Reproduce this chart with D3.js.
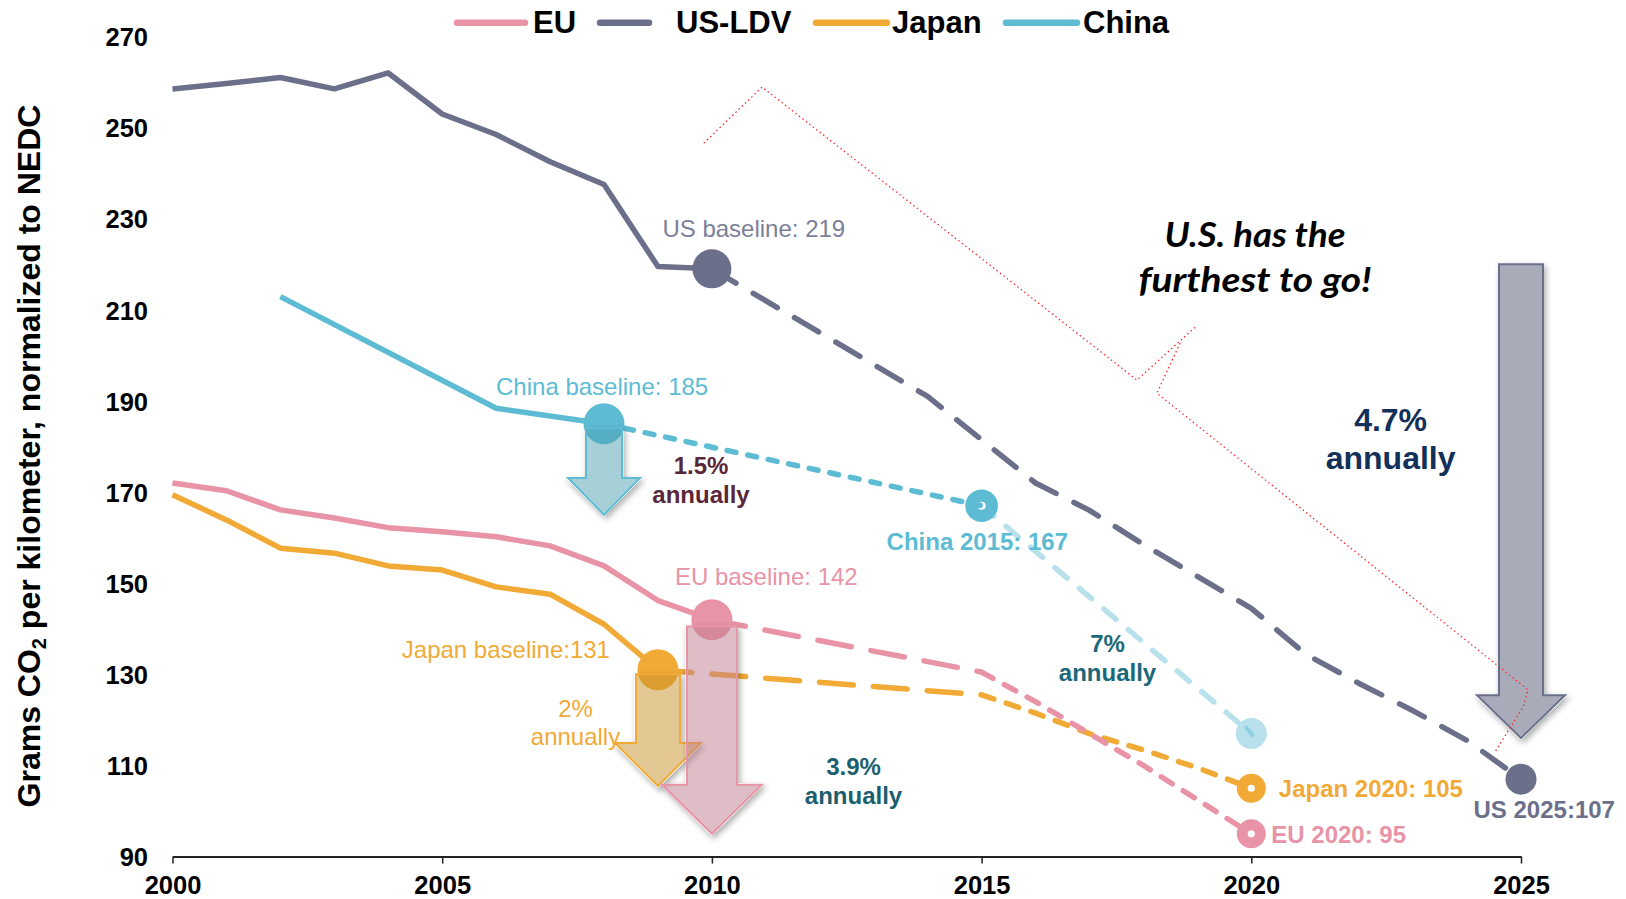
<!DOCTYPE html>
<html>
<head>
<meta charset="utf-8">
<script src="https://cdn.jsdelivr.net/npm/d3@7"></script>
<style>
  html, body { margin: 0; padding: 0; background: #ffffff; }
  svg { display: block; }
</style>
</head>
<body>
<svg id="chart" width="1626" height="899"></svg>
<script>
// ---------------- data ----------------
const yearTicks  = [2000, 2005, 2010, 2015, 2020, 2025];
const valueTicks = [90, 110, 130, 150, 170, 190, 210, 230, 250, 270];

const seriesNames = ["EU", "US-LDV", "Japan", "China"];

// historical fleet averages (g CO2/km, NEDC-normalised)
const usHistoryYears = [2000, 2001, 2002, 2003, 2004, 2005, 2006, 2007, 2008, 2009, 2010];
const usHistory      = [258.5, 259.7, 261, 258.5, 262, 253, 248.5, 242.5, 237.5, 219.5, 219];
const euHistoryYears = [2000, 2001, 2002, 2003, 2004, 2005, 2006, 2007, 2008, 2009, 2010];
const euHistory      = [172, 170.3, 166.1, 164.3, 162.2, 161.3, 160.2, 158.2, 153.8, 146.2, 142];
const japanHistoryYears = [2000, 2001, 2002, 2003, 2004, 2005, 2006, 2007, 2008, 2009];
const japanHistory      = [169.4, 163.9, 157.7, 156.6, 153.8, 152.9, 149.2, 147.6, 141, 131];
const chinaHistoryYears = [2002, 2006, 2008];
const chinaHistory      = [212.9, 188.4, 185];

// enacted / proposed targets
const usTargetYears = [2010, 2014, 2015, 2016, 2017, 2018, 2019, 2020, 2021, 2022, 2023, 2024, 2025];
const usTarget      = [219, 191, 181.5, 172, 166, 158.5, 151.5, 144.5, 134.5, 128, 122, 115.5, 107];
const euTargetYears = [2010, 2015];
const euTarget      = [142, 130.5];
const euLaterYears  = [2015, 2016, 2017, 2018, 2019, 2020];
const euLater       = [130.5, 124, 117, 110, 102.5, 95];
const japanTargetYears = [2009, 2015];
const japanTarget      = [131, 125.5];
const japanLaterYears  = [2015, 2016, 2017, 2018, 2019, 2020];
const japanLater       = [125.5, 121.5, 117, 113.4, 109.5, 105];
const chinaTargetYears = [2008, 2015];
const chinaTarget      = [185, 167];
const chinaLaterYears  = [2015, 2020];
const chinaLater       = [167, 117];

// milestone markers
const baselineSeries = ["US-LDV", "China", "EU", "Japan"];
const baselineYears  = [2010, 2008, 2010, 2009];
const baselineValues = [219, 185, 142, 131];
const goalSeries = ["China", "China", "Japan", "EU", "US-LDV"];
const goalYears  = [2015, 2020, 2020, 2020, 2025];
const goalValues = [167, 117, 105, 95, 107];

// reduction arrows (from value -> to value)
const arrowSeries = ["China", "Japan", "EU", "US-LDV"];
const arrowYears  = [2008, 2009, 2010, 2025];
const arrowFrom   = [184, 130, 140.5, 220];
const arrowTo     = [165, 105.5, 95, 116];

// callout brace (year, value)
const braceUpper = [[2009.85, 246.6], [2010.93, 258.9], [2017.88, 194.6], [2018.96, 206.2]];
const braceLower = [[2018.68, 202.7], [2018.25, 191.7], [2025.13, 126.6], [2025.04, 122.9], [2024.52, 113]];

// ---------------- styling ----------------
const colour = { "EU": "#e893a6", "US-LDV": "#6b6f8a", "Japan": "#f1aa36", "China": "#5dbcd4" };
const chinaLight = "#b9e1eb";
const arrowFill  = { "EU": "#bf7b8d", "US-LDV": "#535971", "Japan": "#c7912d", "China": "#4d9fb1" };
const arrowAlpha = { "EU": 0.5, "US-LDV": 0.5, "Japan": 0.5, "China": 0.5 };
const SANS = "'Liberation Sans', Arial, Helvetica, sans-serif";

const svg = d3.select("#chart");

const x = d3.scaleLinear().domain([2000, 2025]).range([172.5, 1521]);
const y = d3.scaleLinear().domain([90, 270]).range([856.6, 36.5]);

// soft outer shadow for the block arrows
const defs = svg.append("defs");
const f = defs.append("filter").attr("id", "arrowShadow")
  .attr("x", "-40%").attr("y", "-20%").attr("width", "180%").attr("height", "140%");
f.append("feComponentTransfer").attr("in", "SourceAlpha").attr("result", "solid")
  .append("feFuncA").attr("type", "linear").attr("slope", 20);
f.append("feGaussianBlur").attr("in", "solid").attr("stdDeviation", 3).attr("result", "blur");
f.append("feOffset").attr("in", "blur").attr("dx", 1.5).attr("dy", 2.5).attr("result", "off");
f.append("feComponentTransfer").attr("in", "off").attr("result", "soft")
  .append("feFuncA").attr("type", "linear").attr("slope", 0.32);
f.append("feComposite").attr("in", "soft").attr("in2", "solid").attr("operator", "out").attr("result", "outer");
const fm = f.append("feMerge");
fm.append("feMergeNode").attr("in", "outer");
fm.append("feMergeNode").attr("in", "SourceGraphic");

// ---------------- axes ----------------
const xAxis = d3.axisBottom(x).tickValues(yearTicks).tickFormat(d3.format("d"))
  .tickSizeInner(7).tickSizeOuter(0).tickPadding(12);
const gx = svg.append("g").attr("transform", `translate(0,${y(90)})`).call(xAxis);
gx.select(".domain").attr("stroke", "#222").attr("stroke-width", 2);
gx.selectAll(".tick line").attr("stroke", "#222").attr("stroke-width", 1.5);
gx.selectAll(".tick text").attr("fill", "#000").attr("font-family", SANS)
  .attr("font-weight", "bold").attr("font-size", 25.5).attr("dy", "0.71em");

const yAxis = d3.axisLeft(y).tickValues(valueTicks).tickFormat(d3.format("d"))
  .tickSize(0).tickPadding(0);
const gy = svg.append("g").attr("transform", `translate(148,0)`).call(yAxis);
gy.select(".domain").remove();
gy.selectAll(".tick text").attr("fill", "#000").attr("font-family", SANS)
  .attr("font-weight", "bold").attr("font-size", 25.5).attr("dy", "0.36em");

// y-axis title
const yt = svg.append("text")
  .attr("transform", `translate(39.5,456) rotate(-90)`)
  .attr("text-anchor", "middle")
  .attr("font-family", SANS).attr("font-weight", "bold").attr("font-size", 32)
  .attr("fill", "#000");
yt.append("tspan").text("Grams CO");
yt.append("tspan").text("2").attr("font-size", 20).attr("dy", 6);
yt.append("tspan").text(" per kilometer, normalized to NEDC").attr("dy", -6);

// ---------------- lines ----------------
const line = d3.line().x(d => x(d[0])).y(d => y(d[1]));
const lines = svg.append("g").attr("fill", "none").attr("stroke-width", 5.5)
  .attr("stroke-linejoin", "round");

function drawLine(years, values, stroke, dash, cap) {
  lines.append("path")
    .attr("d", line(d3.zip(years, values)))
    .attr("stroke", stroke)
    .attr("stroke-dasharray", dash || null)
    .attr("stroke-linecap", cap || "butt");
}

drawLine(usHistoryYears, usHistory, colour["US-LDV"]);
drawLine(chinaHistoryYears, chinaHistory, colour.China);
drawLine(euHistoryYears, euHistory, colour.EU);
drawLine(japanHistoryYears, japanHistory, colour.Japan);

drawLine(usTargetYears, usTarget, colour["US-LDV"], "28,20", "round");
drawLine(chinaTargetYears, chinaTarget, colour.China, "9,12", "round");
drawLine(chinaLaterYears, chinaLater, chinaLight, "16,16", "round");
drawLine(euTargetYears, euTarget, colour.EU, "34,20", "round");
drawLine(japanTargetYears, japanTarget, colour.Japan, "34,20", "round");
drawLine(japanLaterYears, japanLater, colour.Japan, "13,13", "round");
drawLine(euLaterYears, euLater, colour.EU, "13,13", "round");

// ---------------- baseline markers ----------------
const marks = svg.append("g");
baselineSeries.forEach((s, i) => {
  marks.append("circle")
    .attr("cx", x(baselineYears[i])).attr("cy", y(baselineValues[i]))
    .attr("r", s === "US-LDV" ? 19.5 : 20.5)
    .attr("fill", colour[s]);
});

// ---------------- block arrows ----------------
const arrowGeom = {
  "China":  { shaft: 18, head: 36, headLen: 37 },
  "Japan":  { shaft: 22, head: 43, headLen: 43 },
  "EU":     { shaft: 25, head: 50, headLen: 49 },
  "US-LDV": { shaft: 22, head: 44, headLen: 43 }
};
const arrows = svg.append("g");
arrowSeries.forEach((s, i) => {
  const g = arrowGeom[s];
  const cx = x(arrowYears[i]);
  const top = y(arrowFrom[i]);
  const tip = y(arrowTo[i]);
  const neck = tip - g.headLen;
  const p = d3.path();
  p.moveTo(cx - g.shaft, top);
  p.lineTo(cx + g.shaft, top);
  p.lineTo(cx + g.shaft, neck);
  p.lineTo(cx + g.head, neck);
  p.lineTo(cx, tip);
  p.lineTo(cx - g.head, neck);
  p.lineTo(cx - g.shaft, neck);
  p.closePath();
  arrows.append("path")
    .attr("d", p.toString())
    .attr("fill", arrowFill[s]).attr("fill-opacity", arrowAlpha[s])
    .attr("stroke", colour[s]).attr("stroke-width", 2)
    .attr("stroke-linejoin", "miter")
    .attr("filter", "url(#arrowShadow)");
});

// ---------------- target markers ----------------
goalSeries.forEach((s, i) => {
  const cx = x(goalYears[i]), cy = y(goalValues[i]);
  const isLight = s === "China" && goalYears[i] === 2020;
  const r = (s === "China" && goalYears[i] === 2015) ? 16.3 : (s === "US-LDV" || isLight ? 15.5 : 14.5);
  marks.append("circle").attr("cx", cx).attr("cy", cy).attr("r", r)
    .attr("fill", isLight ? chinaLight : colour[s]);
  if (s === "Japan" || s === "EU") {
    marks.append("circle").attr("cx", cx).attr("cy", cy).attr("r", 3.6).attr("fill", "#fff");
  } else if (s === "China" && !isLight) {
    marks.append("circle").attr("cx", cx).attr("cy", cy).attr("r", 4).attr("fill", "#fff");
    marks.append("circle").attr("cx", cx - 1.8).attr("cy", cy - 0.6).attr("r", 3).attr("fill", colour.China);
  } else if (isLight) {
    marks.append("line").attr("x1", cx - 5).attr("y1", cy - 6).attr("x2", cx + 1).attr("y2", cy + 1)
      .attr("stroke", "#8fcfe0").attr("stroke-width", 4).attr("stroke-linecap", "round");
    marks.append("circle").attr("cx", cx + 0.5).attr("cy", cy + 0.5).attr("r", 2).attr("fill", "none")
      .attr("stroke", "#8fcfe0").attr("stroke-width", 1);
  }
});

// ---------------- labels ----------------
const labels = svg.append("g").attr("font-family", SANS);
function label(txt, px, cy, opts) {
  const o = Object.assign({ size: 24, weight: "normal", anchor: "start", fill: "#000" }, opts);
  labels.append("text")
    .attr("x", px).attr("y", cy + 0.355 * o.size)
    .attr("text-anchor", o.anchor)
    .attr("font-size", o.size).attr("font-weight", o.weight)
    .attr("fill", o.fill).text(txt);
}

const bx = i => x(baselineYears[i]), by = i => y(baselineValues[i]);
label(`US baseline: ${baselineValues[0]}`, bx(0) - 49.5, by(0) - 40, { fill: "#7b7f98" });
label(`China baseline: ${baselineValues[1]}`, bx(1) - 108, by(1) - 37, { fill: colour.China });
label(`EU baseline: ${baselineValues[2]}`, bx(2) - 37, by(2) - 43, { fill: colour.EU });
label(`Japan baseline:${baselineValues[3]}`, bx(3) - 48, by(3) - 20, { fill: colour.Japan, anchor: "end" });

const gx_ = i => x(goalYears[i]), gy_ = i => y(goalValues[i]);
label(`China 2015: ${goalValues[0]}`, gx_(0) - 95, gy_(0) + 35.5, { fill: colour.China, weight: "bold" });
label(`Japan 2020: ${goalValues[2]}`, gx_(2) + 27.5, gy_(2), { fill: colour.Japan, weight: "bold" });
label(`EU 2020: ${goalValues[3]}`, gx_(3) + 20, gy_(3) + 1, { fill: colour.EU, weight: "bold" });
label(`US 2025:${goalValues[4]}`, gx_(4) - 47.5, gy_(4) + 30, { fill: colour["US-LDV"], weight: "bold" });

// annual reduction rates
function rate(pct, cx, cy, gap, opts) {
  label(pct, cx, cy, Object.assign({ anchor: "middle" }, opts));
  label("annually", cx, cy + gap, Object.assign({ anchor: "middle" }, opts));
}
rate("1.5%", 701, 465, 29, { weight: "bold", fill: "#5b2639" });
rate("2%", 575.5, 708, 28, { fill: colour.Japan });
rate("3.9%", 853.5, 766, 29, { weight: "bold", fill: "#1b5f6f" });
rate("7%", 1107.5, 643, 29, { weight: "bold", fill: "#1b6878" });
rate("4.7%", 1390.6, 420, 38, { weight: "bold", fill: "#12305a", size: 32 });

// call-out
const callout = svg.append("g")
  .attr("font-family", "Lato, 'Open Sans', sans-serif")
  .attr("font-style", "italic").attr("font-weight", "bold")
  .attr("font-size", 35).attr("fill", "#000").attr("text-anchor", "middle");
callout.append("text").attr("x", 1255).attr("y", 247)
  .attr("textLength", 181).attr("lengthAdjust", "spacingAndGlyphs").text("U.S. has the");
callout.append("text").attr("x", 1255).attr("y", 292)
  .attr("textLength", 233).attr("lengthAdjust", "spacingAndGlyphs").text("furthest to go!");

// red dotted brace
const braceLine = d3.line().x(d => x(d[0])).y(d => y(d[1]));
const brace = svg.append("g").attr("fill", "none").attr("stroke", "#ff2020")
  .attr("stroke-width", 1.3).attr("stroke-dasharray", "1.4,3");
brace.append("path").attr("d", braceLine(braceUpper));
brace.append("path").attr("d", braceLine(braceLower));

// ---------------- legend ----------------
const legend = svg.append("g").attr("font-family", SANS).attr("font-weight", "bold").attr("font-size", 31);
const legendLine = [[457, 525], [600, 649], [816, 887], [1006, 1077]];
const legendText = [533, 676, 892, 1083];
seriesNames.forEach((s, i) => {
  legend.append("line")
    .attr("x1", legendLine[i][0]).attr("x2", legendLine[i][1])
    .attr("y1", 22.7).attr("y2", 22.7)
    .attr("stroke", colour[s]).attr("stroke-width", 6.5).attr("stroke-linecap", "round");
  legend.append("text").attr("x", legendText[i]).attr("y", 32.5).attr("fill", "#000").text(s);
});
</script>
</body>
</html>
